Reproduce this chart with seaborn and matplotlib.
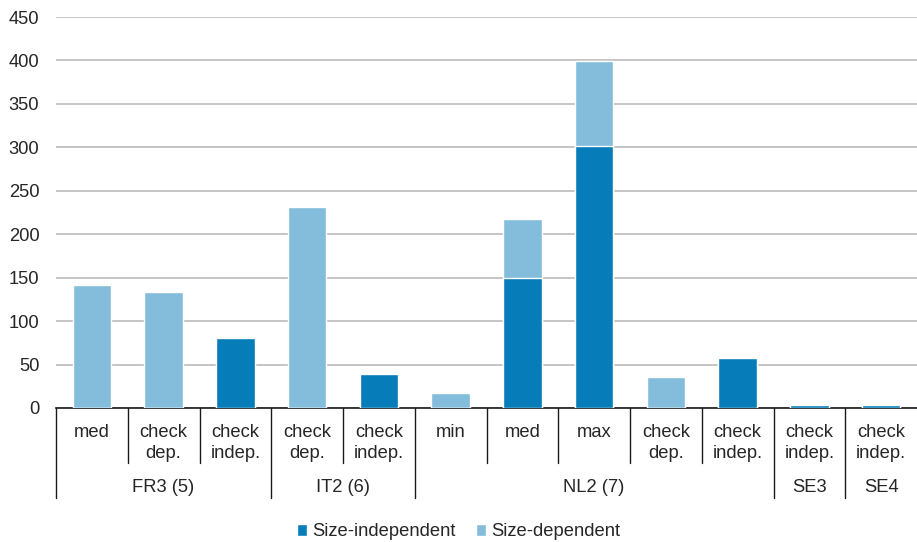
import matplotlib
matplotlib.use("Agg")
import matplotlib.pyplot as plt
from matplotlib.patches import Patch
import seaborn as sns
import pandas as pd

# Sub-category labels, their group and the two stacked components
groups = ["FR3 (5)", "FR3 (5)", "FR3 (5)", "IT2 (6)", "IT2 (6)",
          "NL2 (7)", "NL2 (7)", "NL2 (7)", "NL2 (7)", "NL2 (7)", "SE3", "SE4"]
sublabels = ["med", "check\ndep.", "check\nindep.", "check\ndep.", "check\nindep.",
             "min", "med", "max", "check\ndep.", "check\nindep.", "check\nindep.", "check\nindep."]
size_independent = [0, 0, 80, 0, 39, 0, 150, 302, 0, 58, 3, 3]
size_dependent = [142, 133, 0, 231, 0, 17, 67, 97, 36, 0, 0, 0]

DARK = "#067DB8"
LIGHT = "#84BDDB"
TEXT = "#262626"
FS = 13.2

sns.set_theme(style="white")
plt.rcParams["font.family"] = ["Liberation Sans", "DejaVu Sans"]

df = pd.DataFrame({
    "key": [f"{g}|{i}" for i, g in enumerate(groups)],
    "indep": size_independent,
    "dep": size_dependent,
})
df["total"] = df["indep"] + df["dep"]

fig = plt.figure(figsize=(9.17, 5.42), dpi=100)
ax = fig.add_axes([56 / 917, 1 - 408 / 542, 1 - 56 / 917, (408 - 17) / 542])

# Stacked bars: full height in the light colour, independent part on top of it
sns.barplot(data=df, x="key", y="total", color=LIGHT, width=0.54,
            edgecolor="white", linewidth=1, saturation=1, ax=ax, zorder=3)
sns.barplot(data=df, x="key", y="indep", color=DARK, width=0.54,
            edgecolor="white", linewidth=1, saturation=1, ax=ax, zorder=4)

n = len(groups)
ax.set_xlim(-0.5, n - 0.5)
ax.set_ylim(0, 450)
ax.set_yticks(range(0, 451, 50))
ax.yaxis.grid(True, color="#C0C0C0", linewidth=1.3, zorder=0)
ax.set_axisbelow(True)
for s in ["top", "right", "left"]:
    ax.spines[s].set_visible(False)
ax.spines["bottom"].set_color("#1a1a1a")
ax.spines["bottom"].set_linewidth(1.2)
ax.tick_params(axis="y", length=0, pad=12, labelsize=FS, labelcolor=TEXT)
ax.set_xticks([])
ax.set_xlabel("")
ax.set_ylabel("")

# Multi-level category axis drawn below the plot area
tr = ax.get_xaxis_transform()
px = 1 / 391.0
sub_bottom = -(463 - 408) * px
grp_bottom = -(498 - 408) * px
for i, lab in enumerate(sublabels):
    ax.text(i, -(424 - 408) * px, lab, transform=tr, ha="center", va="top",
            fontsize=FS, color=TEXT, linespacing=1.27)

boundaries = [i - 0.5 for i in range(n + 1)]
group_edges = [-0.5]
for i in range(1, n):
    if groups[i] != groups[i - 1]:
        group_edges.append(i - 0.5)
for b in boundaries:
    if b >= n - 0.5:
        continue
    bottom = grp_bottom if b in group_edges else sub_bottom
    ax.plot([b, b], [0, bottom], transform=tr, color="#1a1a1a", lw=1,
            clip_on=False, zorder=5)

group_edges.append(n - 0.5)
for a, b in zip(group_edges[:-1], group_edges[1:]):
    name = groups[int(a + 0.5)]
    ax.text((a + b) / 2, -(488 - 408) * px, name, transform=tr, ha="center",
            va="center", fontsize=FS, color=TEXT)

handles = [Patch(facecolor=DARK, label="Size-independent"),
           Patch(facecolor=LIGHT, label="Size-dependent")]
fig.legend(handles=handles, loc="center", bbox_to_anchor=(0.5, 1 - 532 / 542),
           ncol=2, frameon=False, fontsize=FS, handlelength=0.55,
           handleheight=0.55, handletextpad=0.3, columnspacing=1.1,
           labelcolor=TEXT)

fig.savefig("out.png", dpi=100)
